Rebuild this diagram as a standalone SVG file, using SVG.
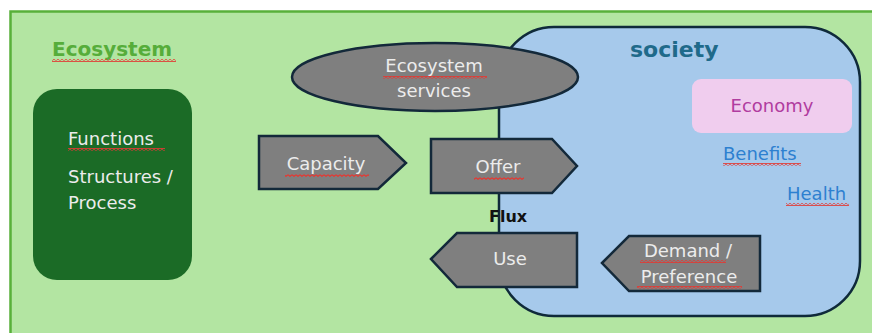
<svg xmlns="http://www.w3.org/2000/svg" width="872" height="333" viewBox="0 0 872 333">
<defs>
<style>
.t{font-family:"DejaVu Sans",Verdana,sans-serif;font-size:18px}
.w{fill:#ececec}
.g{fill:#7f7f7f;stroke:#13293a;stroke-width:2.5}
.c{text-anchor:middle}
</style>
<pattern id="sq" width="4" height="3" patternUnits="userSpaceOnUse">
<path d="M0,0.7 L2,2.3 L4,0.7" fill="none" stroke="#e23a34" stroke-width="1.3"/>
</pattern>
</defs>
<rect x="0" y="0" width="872" height="333" fill="#ffffff"/>
<g id="ecosystem">
<rect x="10.5" y="11.5" width="880" height="340" fill="#b3e5a2" stroke="#58b03a" stroke-width="2.5"/>
<text x="52" y="56" class="t" style="font-weight:bold;font-size:20px" fill="#56ad3a">Ecosystem</text>
</g>
<g id="functions">
<rect x="33" y="89" width="159" height="191" rx="24" fill="#1b6b26"/>
<text x="68" y="145" class="t w">Functions</text>
<text x="68" y="183" class="t w">Structures /</text>
<text x="68" y="209" class="t w">Process</text>
</g>
<g id="society">
<rect x="499" y="27" width="361" height="289" rx="55" fill="#a6c9eb" stroke="#0f2a3a" stroke-width="2.5"/>
<text x="630" y="57" class="t" style="font-weight:bold;font-size:22px" fill="#1f6a8a">society</text>
</g>
<g id="economy">
<rect x="692" y="79" width="160" height="54" rx="9" fill="#f0cdee"/>
<text x="772" y="112" class="t c" fill="#b03c9f">Economy</text>
</g>
<g id="benefits"><text x="723" y="160" class="t" fill="#2d80d0">Benefits</text></g>
<g id="health"><text x="787" y="200" class="t" fill="#2d80d0">Health</text></g>
<g id="services">
<ellipse cx="435" cy="77" rx="143" ry="34" class="g"/>
<text x="434" y="72" class="t c w">Ecosystem</text>
<text x="434" y="97" class="t c w">services</text>
</g>
<g id="capacity">
<polygon points="259,136 378,136 406,163 378,189 259,189" class="g"/>
<text x="326" y="170" class="t c w">Capacity</text>
</g>
<g id="offer">
<polygon points="431,139 552,139 577,166 552,193 431,193" class="g"/>
<text x="498" y="173" class="t c w">Offer</text>
</g>
<g id="flux"><text x="489" y="222" class="t" style="font-weight:bold;font-size:16px" fill="#111111">Flux</text></g>
<g id="use">
<polygon points="431,259 457,233 577,233 577,287 457,287" class="g"/>
<text x="510" y="265" class="t c w">Use</text>
</g>
<g id="demand">
<polygon points="602,263 629,236 760,236 760,291 629,291" class="g"/>
<text x="688" y="257" class="t c w">Demand /</text>
<text x="689" y="283" class="t c w">Preference</text>
</g>
<g id="connectors"></g>
<g id="spellmarks" fill="url(#sq)">
<rect x="52" y="59" width="124" height="3"/>
<rect x="68" y="148" width="97" height="3"/>
<rect x="383" y="76" width="104" height="3"/>
<rect x="285" y="174" width="84" height="3"/>
<rect x="474" y="177" width="50" height="3"/>
<rect x="723" y="163" width="78" height="3"/>
<rect x="786" y="203" width="63" height="3"/>
<rect x="640" y="260" width="86" height="3"/>
<rect x="637" y="286" width="105" height="3"/>
</g>
</svg>
